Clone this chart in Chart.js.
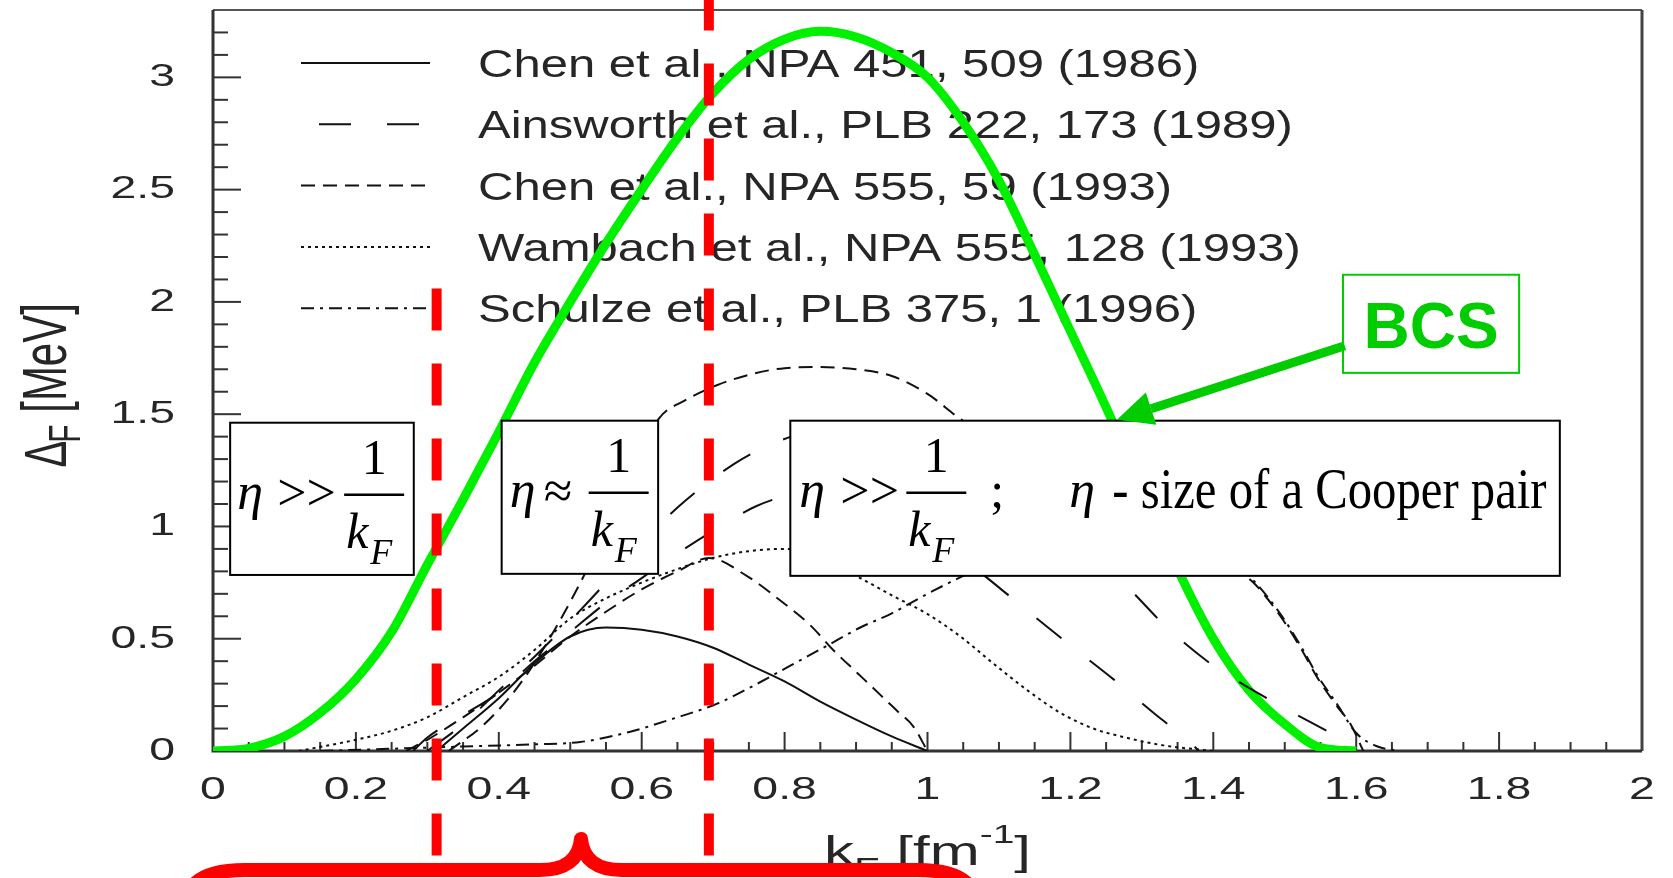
<!DOCTYPE html>
<html lang="en">
<head>
<meta charset="UTF-8">
<title>Neutron 1S0 gap vs kF</title>
<script src="https://cdn.jsdelivr.net/npm/chart.js"></script>
<style>
    body { margin: 0; padding: 0; background: #fff; }
    .chart-box { width: 1673px; height: 878px; }
</style>
</head>
<body>
<div class="chart-box"><canvas id="gapChart" width="1673" height="878"></canvas></div>
<script>
// ---- values: k_F in fm^-1, gap in MeV ----
const kTickLabels = ['0', '0.2', '0.4', '0.6', '0.8', '1', '1.2', '1.4', '1.6', '1.8', '2'];
const gapTickLabels = ['0', '0.5', '1', '1.5', '2', '2.5', '3'];
const kMinorStep = 0.05;
const gapMinorStep = 0.1;

const bcsK = [0, 0.05, 0.1, 0.15, 0.2, 0.25, 0.3, 0.35, 0.4, 0.45, 0.5, 0.55, 0.6, 0.65, 0.7, 0.75, 0.8, 0.85, 0.9, 0.95, 1.0, 1.05, 1.1, 1.15, 1.2, 1.25, 1.3, 1.35, 1.4, 1.45, 1.5, 1.55, 1.6];
const bcsGap = [0, 0.012, 0.065, 0.17, 0.32, 0.53, 0.83, 1.12, 1.42, 1.73, 2.0, 2.26, 2.5, 2.73, 2.93, 3.08, 3.17, 3.205, 3.18, 3.11, 3.0, 2.8, 2.54, 2.21, 1.87, 1.53, 1.17, 0.81, 0.5, 0.27, 0.12, 0.015, 0];

const chen86K = [0.313, 0.35, 0.4, 0.45, 0.5, 0.55, 0.6, 0.65, 0.7, 0.75, 0.8, 0.85, 0.9, 0.95, 1.0];
const chen86Gap = [0, 0.1, 0.235, 0.39, 0.51, 0.55, 0.54, 0.51, 0.46, 0.385, 0.31, 0.22, 0.14, 0.065, 0];

const ainsworthAK = [0.28, 0.3, 0.35, 0.4, 0.45, 0.5, 0.55, 0.6, 0.65, 0.7, 0.76, 0.82, 0.88, 0.95, 1.0, 1.08, 1.13, 1.2, 1.26, 1.32, 1.36, 1.38];
const ainsworthAGap = [0, 0.06, 0.16, 0.26, 0.4, 0.53, 0.66, 0.77, 0.88, 0.98, 1.09, 1.15, 1.17, 1.1, 0.98, 0.78, 0.65, 0.47, 0.32, 0.16, 0.06, 0];
const ainsworthBK = [0.3, 0.35, 0.4, 0.45, 0.5, 0.55, 0.6, 0.663, 0.73, 0.77, 0.82, 0.9, 1.0, 1.1, 1.2, 1.28, 1.335, 1.4, 1.44, 1.5, 1.557, 1.6];
const ainsworthBGap = [0, 0.12, 0.27, 0.42, 0.58, 0.75, 0.93, 1.12, 1.28, 1.35, 1.41, 1.45, 1.38, 1.2, 0.96, 0.73, 0.55, 0.38, 0.3, 0.19, 0.093, 0.02];

const chen93AK = [0.33, 0.38, 0.43, 0.48, 0.53, 0.58, 0.624, 0.66, 0.706, 0.756, 0.8, 0.85, 0.9, 0.95, 1.0, 1.05, 1.15, 1.25, 1.35, 1.42, 1.456, 1.494, 1.522, 1.545, 1.573, 1.592, 1.61];
const chen93AGap = [0, 0.12, 0.3, 0.55, 0.85, 1.2, 1.48, 1.56, 1.63, 1.68, 1.705, 1.71, 1.7, 1.67, 1.59, 1.47, 1.3, 1.12, 0.95, 0.83, 0.75, 0.6, 0.46, 0.33, 0.2, 0.12, 0];
const chen93BK = [0.27, 0.3, 0.35, 0.4, 0.45, 0.5, 0.55, 0.6, 0.65, 0.694, 0.747, 0.794, 0.836, 0.868, 0.901, 0.934, 0.957, 0.98, 1.0];
const chen93BGap = [0, 0.05, 0.15, 0.26, 0.38, 0.51, 0.62, 0.72, 0.8, 0.86, 0.78, 0.67, 0.56, 0.45, 0.35, 0.25, 0.18, 0.11, 0];

const wambachK = [0.12, 0.2, 0.25, 0.3, 0.35, 0.4, 0.45, 0.5, 0.55, 0.6, 0.65, 0.7, 0.75, 0.8, 0.85, 0.906, 0.952, 1.0, 1.046, 1.092, 1.14, 1.186, 1.232, 1.28, 1.33, 1.4];
const wambachGap = [0, 0.05, 0.09, 0.15, 0.24, 0.33, 0.45, 0.59, 0.68, 0.75, 0.81, 0.86, 0.89, 0.9, 0.86, 0.77, 0.69, 0.61, 0.51, 0.39, 0.27, 0.17, 0.1, 0.058, 0.025, 0];

const schulzeK = [0.15, 0.25, 0.35, 0.45, 0.514, 0.584, 0.64, 0.705, 0.756, 0.808, 0.86, 0.906, 0.948, 1.0, 1.05, 1.15, 1.25, 1.35, 1.42, 1.456, 1.494, 1.522, 1.545, 1.573, 1.6, 1.63, 1.66];
const schulzeGap = [0, 0.01, 0.02, 0.03, 0.04, 0.086, 0.14, 0.21, 0.29, 0.38, 0.47, 0.55, 0.61, 0.7, 0.78, 0.92, 1.02, 1.0, 0.86, 0.76, 0.61, 0.47, 0.34, 0.21, 0.08, 0.02, 0];

const legendLabels = [
    'Chen et al., NPA 451, 509 (1986)',
    'Ainsworth et al., PLB 222, 173 (1989)',
    'Chen et al., NPA 555, 59 (1993)',
    'Wambach et al., NPA 555, 128 (1993)',
    'Schulze et al., PLB 375, 1 (1996)'
];

// red guides separating the three regimes (k_F values)
const regionEdges = [0.313, 0.694];
const regionEdgeTops = [2.06, 3.45];
const regionEdgeBottom = -0.465;

// ---- styling ----
const SANS = '"Liberation Sans", Arial, sans-serif';
const SERIF = '"Liberation Serif", "Times New Roman", serif';
const INK = '#262626';
const TICK_STRETCH = 1.45;   // text of the original plot is drawn wide
const LEGEND_STRETCH = 1.29;
const TITLE_STRETCH = 1.5;
const dash = { solid: [], long: [32, 36], medium: [14, 8], dotted: [3, 4], dashDot: [13, 6, 3, 6] };

function points(ks, gaps) {
    return ks.map((k, i) => ({ x: k, y: gaps[i] }));
}

function curve(label, ks, gaps, style) {
    return {
        label: label,
        data: points(ks, gaps),
        showLine: true,
        borderColor: '#111',
        borderWidth: 2,
        borderDash: dash[style],
        pointRadius: 0,
        fill: false,
        cubicInterpolationMode: 'monotone'
    };
}

const legendRows = [
    { label: legendLabels[0], dash: dash.solid, offset: 0 },
    { label: legendLabels[1], dash: dash.long, offset: 50 },
    { label: legendLabels[2], dash: dash.medium, offset: 0 },
    { label: legendLabels[3], dash: dash.dotted, offset: 0 },
    { label: legendLabels[4], dash: dash.dashDot, offset: 0 }
];

// annotation boxes, anchored in data units
const etaBoxes = [
    { k: [0.024, 0.281], gap: [0.784, 1.462], rel: '>>', etaX: 7, relX: 47, fracX: 144 },
    { k: [0.404, 0.623], gap: [0.789, 1.471], rel: '\u2248', etaX: 8, relX: 42, fracX: 117 },
    { k: [0.808, 1.885], gap: [0.78, 1.471], rel: '>>', etaX: 9, relX: 50, fracX: 146, note: true }
];
const bcsBox = { k: [1.5815, 1.828], gap: [1.684, 2.121] };
const bcsArrow = { from: [1.584, 1.805], to: [1.265, 1.475] };

function wideText(ctx, text, x, y, sx) {
    ctx.save();
    ctx.translate(x, y);
    ctx.scale(sx, 1);
    ctx.fillText(text, 0, 0);
    ctx.restore();
    return ctx.measureText(text).width * sx;
}

// tick labels of the original are stretched sideways; only active while the scales draw
const stretchTicks = {
    id: 'stretchTicks',
    beforeDraw(chart) {
        const nativeFill = CanvasRenderingContext2D.prototype.fillText;
        chart.ctx.fillText = function (text, x, y) {
            this.save();
            this.translate(x, y);
            this.scale(TICK_STRETCH, 1);
            nativeFill.call(this, text, 0, 0);
            this.restore();
        };
    },
    beforeDatasetsDraw(chart) {
        delete chart.ctx.fillText;
    }
};

// ROOT-like frame with inward ticks, and the legend under the curves
const frameAndLegend = {
    id: 'frameAndLegend',
    beforeDatasetsDraw(chart) {
        const { ctx, chartArea: a, scales: { x, y } } = chart;
        ctx.save();
        ctx.strokeStyle = '#333';
        ctx.lineWidth = 2;
        const nY = Math.round(y.max / gapMinorStep);
        for (let i = 0; i <= nY; i++) {
            const py = y.getPixelForValue(i * gapMinorStep);
            ctx.beginPath();
            ctx.moveTo(a.left, py);
            ctx.lineTo(a.left + (i % 5 === 0 ? 28 : 15), py);
            ctx.stroke();
        }
        const nX = Math.round(x.max / kMinorStep);
        for (let i = 0; i <= nX; i++) {
            const px = x.getPixelForValue(i * kMinorStep);
            ctx.beginPath();
            ctx.moveTo(px, a.bottom);
            ctx.lineTo(px, a.bottom - (i % 4 === 0 ? 19 : 9));
            ctx.stroke();
        }
        ctx.strokeStyle = '#555';
        ctx.beginPath();
        ctx.moveTo(a.left, a.top);
        ctx.lineTo(a.right, a.top);
        ctx.stroke();
        ctx.lineWidth = 3;
        ctx.strokeStyle = '#444';
        ctx.beginPath();
        ctx.moveTo(a.right, a.top);
        ctx.lineTo(a.right, a.bottom);
        ctx.stroke();
        ctx.strokeStyle = '#333';
        ctx.beginPath();
        ctx.moveTo(a.left, a.top);
        ctx.lineTo(a.left, a.bottom);
        ctx.lineTo(a.right, a.bottom);
        ctx.stroke();

        // legend
        ctx.font = `38px ${SANS}`;
        ctx.fillStyle = INK;
        ctx.textBaseline = 'alphabetic';
        legendRows.forEach((row, i) => {
            const cy = a.top + 53 + i * 61.3;
            ctx.strokeStyle = '#111';
            ctx.lineWidth = 2;
            ctx.setLineDash(row.dash);
            ctx.lineDashOffset = row.offset;
            ctx.beginPath();
            ctx.moveTo(a.left + 88, cy);
            ctx.lineTo(a.left + 217, cy);
            ctx.stroke();
            wideText(ctx, row.label, a.left + 265, cy + 14, LEGEND_STRETCH);
        });
        ctx.restore();
    }
};

function drawFraction(ctx, cx, top) {
    ctx.font = `50px ${SERIF}`;
    ctx.textAlign = 'center';
    ctx.fillText('1', cx, top + 51);
    ctx.textAlign = 'left';
    ctx.lineWidth = 2.5;
    ctx.setLineDash([]);
    ctx.beginPath();
    ctx.moveTo(cx - 30, top + 72);
    ctx.lineTo(cx + 30, top + 72);
    ctx.stroke();
    ctx.font = `italic 50px ${SERIF}`;
    ctx.fillText('k', cx - 28, top + 125);
    ctx.font = `italic 36px ${SERIF}`;
    ctx.fillText('F', cx - 4, top + 141);
}

const annotations = {
    id: 'annotations',
    afterDatasetsDraw(chart) {
        const { ctx, chartArea: a, scales: { x, y } } = chart;
        ctx.save();
        ctx.textBaseline = 'alphabetic';
        ctx.fillStyle = INK;

        // y title: Delta_F [MeV], rotated and stretched like the plot text
        ctx.save();
        ctx.translate(66, (a.top + a.bottom) / 2 + 87);
        ctx.rotate(-Math.PI / 2);
        ctx.scale(1, 1.5);
        ctx.font = `40px ${SANS}`;
        ctx.fillText('\u0394', 0, 0);
        let tx = ctx.measureText('\u0394').width - 2;
        ctx.font = `30px ${SANS}`;
        ctx.fillText('F', tx, 9);
        tx += ctx.measureText('F').width;
        ctx.font = `42px ${SANS}`;
        ctx.fillText(' [MeV]', tx, 0);
        ctx.restore();

        // x title: k_F [fm^-1]
        const parts = [
            { t: 'k', size: 40, dy: 0 },
            { t: 'F', size: 28, dy: 12 },
            { t: ' [fm', size: 40, dy: 0 },
            { t: '-1', size: 26, dy: -22 },
            { t: ']', size: 40, dy: 0 }
        ];
        let total = 0;
        parts.forEach(p => {
            ctx.font = `${p.size}px ${SANS}`;
            total += ctx.measureText(p.t).width * TITLE_STRETCH;
        });
        let px = (a.left + a.right) / 2 - total / 2;
        parts.forEach(p => {
            ctx.font = `${p.size}px ${SANS}`;
            px += wideText(ctx, p.t, px, a.bottom + 114 + p.dy, TITLE_STRETCH);
        });

        // eta boxes
        ctx.fillStyle = '#000';
        ctx.strokeStyle = '#000';
        etaBoxes.forEach(b => {
            const L = x.getPixelForValue(b.k[0]);
            const R = x.getPixelForValue(b.k[1]);
            const T = y.getPixelForValue(b.gap[1]);
            const B = y.getPixelForValue(b.gap[0]);
            ctx.setLineDash([]);
            ctx.fillStyle = '#fff';
            ctx.fillRect(L, T, R - L, B - T);
            ctx.lineWidth = 2;
            ctx.strokeRect(L, T, R - L, B - T);
            ctx.fillStyle = '#000';
            ctx.font = `italic 52px ${SERIF}`;
            ctx.fillText('\u03b7', L + b.etaX, T + 86);
            ctx.font = `52px ${SERIF}`;
            ctx.fillText(b.rel, L + b.relX, T + 87);
            drawFraction(ctx, L + b.fracX, T);
            if (b.note) {
                ctx.font = `50px ${SERIF}`;
                ctx.fillText(';', L + 200, T + 86);
                ctx.font = `italic 52px ${SERIF}`;
                ctx.fillText('\u03b7', L + 279, T + 86);
                ctx.font = `58px ${SERIF}`;
                wideText(ctx, '- size of a Cooper pair', L + 322, T + 87, 0.84);
            }
        });

        // red dashed guides
        ctx.strokeStyle = '#ff0000';
        ctx.lineWidth = 10;
        ctx.setLineDash([42, 33]);
        ctx.lineDashOffset = 0;
        regionEdges.forEach((k, i) => {
            const gx = x.getPixelForValue(k);
            ctx.beginPath();
            ctx.moveTo(gx, y.getPixelForValue(regionEdgeBottom));
            ctx.lineTo(gx, y.getPixelForValue(regionEdgeTops[i]));
            ctx.stroke();
        });
        ctx.setLineDash([]);

        // BCS label and arrow
        const bL = x.getPixelForValue(bcsBox.k[0]);
        const bR = x.getPixelForValue(bcsBox.k[1]);
        const bT = y.getPixelForValue(bcsBox.gap[1]);
        const bB = y.getPixelForValue(bcsBox.gap[0]);
        ctx.fillStyle = '#fff';
        ctx.fillRect(bL, bT, bR - bL, bB - bT);
        ctx.strokeStyle = '#00cc00';
        ctx.lineWidth = 2;
        ctx.strokeRect(bL, bT, bR - bL, bB - bT);
        ctx.fillStyle = '#00cc00';
        ctx.font = `bold 64px ${SANS}`;
        ctx.textAlign = 'center';
        ctx.fillText('BCS', (bL + bR) / 2, bB - 25);
        ctx.textAlign = 'left';

        const fx = x.getPixelForValue(bcsArrow.from[0]);
        const fy = y.getPixelForValue(bcsArrow.from[1]);
        const tipX = x.getPixelForValue(bcsArrow.to[0]);
        const tipY = y.getPixelForValue(bcsArrow.to[1]);
        const len = Math.hypot(tipX - fx, tipY - fy);
        const ux = (tipX - fx) / len;
        const uy = (tipY - fy) / len;
        const baseX = tipX - ux * 36;
        const baseY = tipY - uy * 36;
        ctx.strokeStyle = '#00cc00';
        ctx.lineWidth = 9;
        ctx.beginPath();
        ctx.moveTo(fx, fy);
        ctx.lineTo(baseX, baseY);
        ctx.stroke();
        ctx.beginPath();
        ctx.moveTo(tipX, tipY);
        ctx.lineTo(baseX - uy * 17, baseY + ux * 17);
        ctx.lineTo(baseX + uy * 17, baseY - ux * 17);
        ctx.closePath();
        ctx.fill();

        // red curly brace under the axis
        ctx.strokeStyle = '#ff0000';
        ctx.lineWidth = 14;
        ctx.lineJoin = 'round';
        ctx.beginPath();
        ctx.moveTo(186, 900);
        ctx.quadraticCurveTo(192, 870, 245, 870);
        ctx.lineTo(540, 870);
        ctx.quadraticCurveTo(578, 870, 581, 839);
        ctx.quadraticCurveTo(584, 870, 622, 870);
        ctx.lineTo(918, 870);
        ctx.quadraticCurveTo(970, 870, 976, 900);
        ctx.stroke();
        ctx.restore();
    }
};

const tickFont = { family: SANS, size: 32 };

new Chart(document.getElementById('gapChart'), {
    type: 'scatter',
    data: {
        datasets: [
            curve(legendLabels[0], chen86K, chen86Gap, 'solid'),
            curve(legendLabels[1], ainsworthAK, ainsworthAGap, 'long'),
            curve(legendLabels[1], ainsworthBK, ainsworthBGap, 'long'),
            curve(legendLabels[2], chen93AK, chen93AGap, 'medium'),
            curve(legendLabels[2], chen93BK, chen93BGap, 'medium'),
            curve(legendLabels[3], wambachK, wambachGap, 'dotted'),
            curve(legendLabels[4], schulzeK, schulzeGap, 'dashDot'),
            // BCS last so it is painted first, under the black curves
            {
                label: 'BCS',
                data: points(bcsK, bcsGap),
                showLine: true,
                borderColor: '#00f000',
                borderWidth: 9,
                pointRadius: 0,
                fill: false,
                cubicInterpolationMode: 'monotone'
            }
        ]
    },
    options: {
        responsive: false,
        animation: false,
        events: [],
        layout: { padding: { left: 0, right: 31, top: 10, bottom: 0 } },
        plugins: {
            legend: { display: false },
            tooltip: { enabled: false }
        },
        scales: {
            x: {
                type: 'linear',
                min: 0,
                max: 2,
                bounds: 'data',
                grid: { display: false },
                border: { display: false },
                afterBuildTicks: s => { s.ticks = kTickLabels.map(t => ({ value: Number(t) })); },
                afterFit: s => { s.height = 127; s.paddingLeft = 0; s.paddingRight = 0; },
                ticks: {
                    autoSkip: false,
                    maxRotation: 0,
                    padding: 12,
                    color: INK,
                    font: tickFont,
                    callback: (v, i) => kTickLabels[i]
                }
            },
            y: {
                type: 'linear',
                min: 0,
                max: 3.3,
                bounds: 'data',
                grid: { display: false },
                border: { display: false },
                afterBuildTicks: s => { s.ticks = gapTickLabels.map(t => ({ value: Number(t) })); },
                afterFit: s => { s.width = 213; s.paddingTop = 0; s.paddingBottom = 0; },
                ticks: {
                    autoSkip: false,
                    padding: 30,
                    color: INK,
                    font: tickFont,
                    callback: (v, i) => gapTickLabels[i]
                }
            }
        }
    },
    plugins: [stretchTicks, frameAndLegend, annotations]
});
</script>
</body>
</html>
